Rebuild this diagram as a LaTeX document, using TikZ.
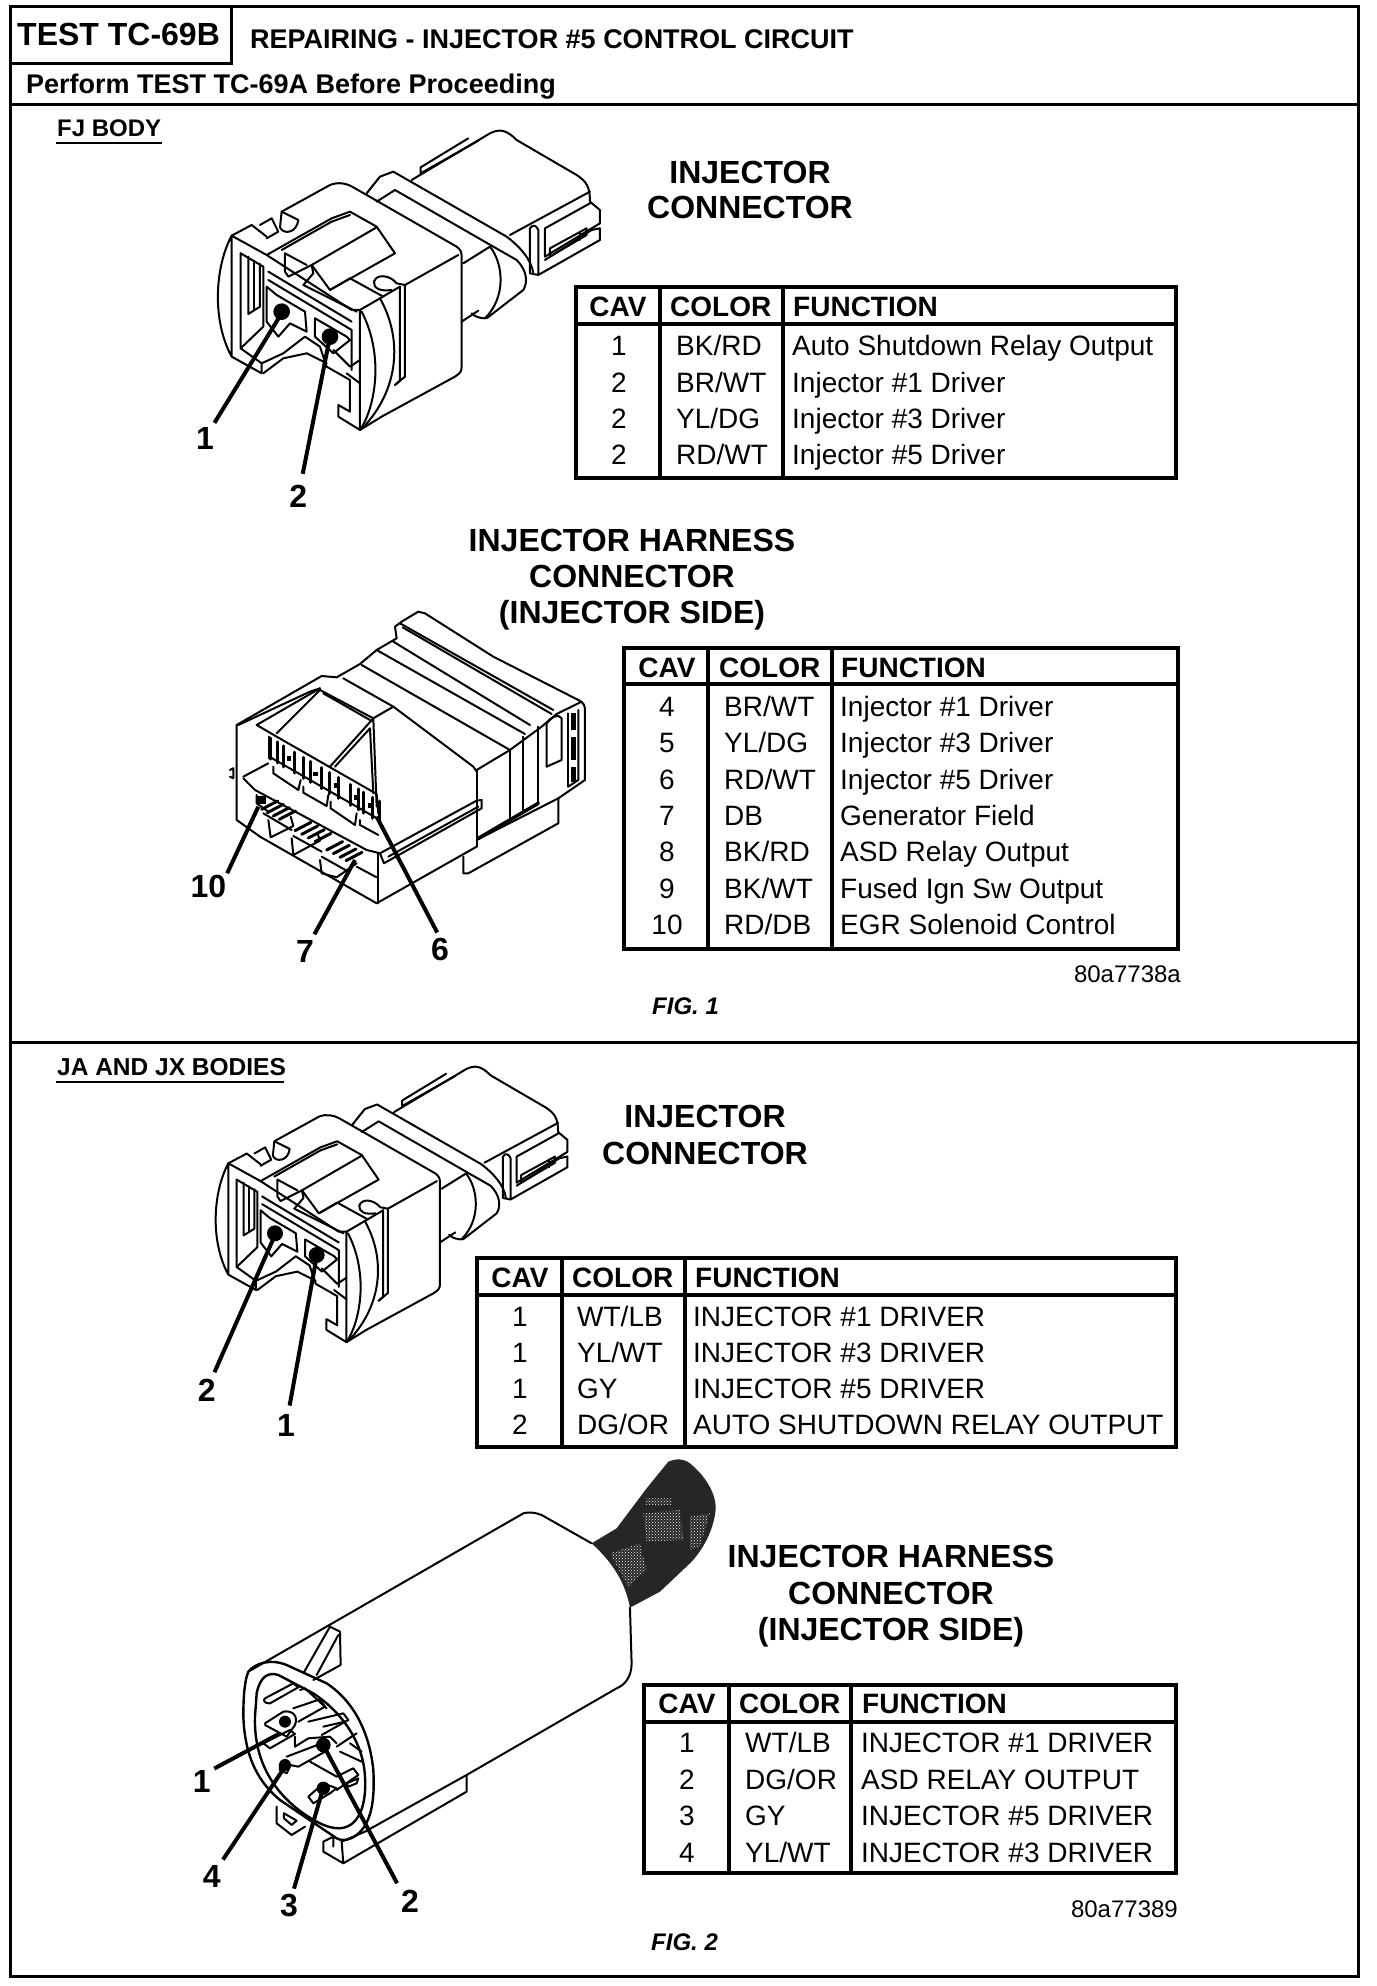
\documentclass[tikz,border=0pt]{standalone}
\usepackage{fontspec}
\usetikzlibrary{patterns}
\setmainfont{Liberation Sans}
\newcounter{cellno}
\newcommand{\fs}[1]{\fontsize{#1}{#1}\selectfont}
% cells of the tables and free texts: anchor, x, y, font size, text
\newcommand{\txt}[5]{\stepcounter{cellno}\node[cellbox,anchor=#1,font=\fs{#4}] (c\arabic{cellno}) at (#2,#3) {#5};}
\newcommand{\btxt}[5]{\stepcounter{cellno}\node[cellbox,anchor=#1,font=\fs{#4}\bfseries] (c\arabic{cellno}) at (#2,#3) {#5};}
\newcommand{\itxt}[5]{\stepcounter{cellno}\node[cellbox,anchor=#1,font=\fs{#4}\bfseries\itshape] (c\arabic{cellno}) at (#2,#3) {#5};}
% table frame: left,right,top,bottom,header line,col1,col2
\newcommand{\tblframe}[7]{\draw[tbl] (#1,#3) rectangle (#2,#4); \draw[tbl] (#1,#5) -- (#2,#5); \draw[tbl] (#6,#3) -- (#6,#4); \draw[tbl] (#7,#3) -- (#7,#4);}
% the moulded injector connector, in coordinates of a 3x enlargement
\newcommand{\injconn}{
\draw[ln] (245,287) .. controls (195,380) and (185,540) .. (245,650) -- (335,700) -- (335,670) -- (400,640) -- (465,590) -- (510,620) -- (530,680) -- (600,720) -- (600,815) -- (565,795) -- (565,830) -- (630,870) -- (630,510) -- (605,510) -- (350,345) -- (245,287) -- (245,650);
\draw[ln] (245,287) -- (305,255) -- (350,290);
\draw[ln] (330,255) -- (365,235) -- (385,275) -- (350,295);
\draw[ln] (272,340) -- (272,625) -- (335,670);
\draw[ln] (272,340) -- (340,380) -- (340,560) -- (272,625);
\draw[ln] (295,350) -- (295,522) -- (330,500) -- (330,372);
\draw[ln] (312,362) -- (312,508);
\draw[ln] (355,395) -- (605,545);
\draw[ln] (355,420) -- (605,570) -- (605,690);
\draw[ln] (350,440) -- (380,465) -- (465,515) -- (470,575) -- (420,550) -- (385,590) -- (350,545) -- cycle;
\draw[ln] (495,535) -- (590,590) -- (600,600) -- (550,640) -- (495,590) -- cycle;
\draw[ln] (340,700) -- (400,655) -- (470,640) -- (530,670);
\draw[ln] (550,630) -- (600,680) -- (630,660);
\draw[ln] (590,700) -- (630,730);
\draw[ln] (350,345) -- (545,235) -- (600,215) -- (680,260) -- (735,340) -- (540,450) -- (485,375) -- (415,410) -- (405,395) -- (405,340) -- (470,375);
\draw[ln] (395,330) -- (545,245) -- (600,225);
\draw[ln] (485,375) -- (680,262);
\draw[ln] (485,375) -- (490,400) -- (460,435) -- (620,515);
\draw[ln] (395,215) -- (390,262) .. controls (400,285) and (440,280) .. (445,240) -- (395,215);
\draw[ln] (395,215) -- (540,135) .. controls (565,125) and (590,130) .. (610,142) -- (920,320) .. controls (932,328) and (935,338) .. (935,350) -- (935,680) .. controls (935,695) and (930,700) .. (915,710) -- (695,830) -- (630,870);
\draw[ln] (600,415) -- (700,470);
\draw[ln] (540,450) -- (600,415);
\draw[ln] (672,425) .. controls (680,400) and (720,405) .. (740,430) -- (765,435);
\draw[ln] (672,425) .. controls (670,445) and (690,455) .. (725,450);
\draw[ln] (765,435) -- (925,345);
\draw[ln] (750,440) -- (750,722) -- (735,735);
\draw[ln] (765,435) -- (765,710) -- (735,735);
\draw[ln] (630,510) -- (750,440);
\draw[ln] (635,515) .. controls (700,640) and (680,790) .. (632,868);
\draw[ln] (690,475) .. controls (760,600) and (745,750) .. (640,862);
\draw[ln] (650,160) -- (690,110) -- (730,95) -- (1070,290) .. controls (1110,320) and (1145,360) .. (1150,400);
\draw[ln] (680,185) -- (735,150) -- (1030,320) -- (1100,360) .. controls (1130,390) and (1135,425) .. (1120,450) -- (1010,535);
\draw[ln] (940,370) -- (1020,320) .. controls (1060,370) and (1070,470) .. (1005,535) .. controls (990,535) and (975,530) .. (965,520);
\draw[ln] (935,545) -- (985,512);
\draw[ln] (785,120) -- (1020,-20) .. controls (1050,-35) and (1070,-30) .. (1100,0) -- (1280,105) .. controls (1310,125) and (1320,140) .. (1320,185);
\draw[ln] (812,100) -- (812,82) -- (955,-5);
\draw[ln] (812,100) -- (985,2);
\draw[ln] (1080,285) -- (1320,155);
\draw[ln] (1320,185) -- (1350,210) -- (1350,250) -- (1185,350) -- (1185,265) -- (1320,190);
\draw[ln] (1350,265) -- (1350,300) -- (1165,405) -- (1140,400) -- (1140,265) .. controls (1150,250) and (1160,258) .. (1165,270) -- (1165,405);
\draw[ln] (1185,360) -- (1325,270) -- (1350,265);
\draw[ln] (1200,325) -- (1200,350) -- (1310,285) -- (1310,265) -- cycle;
\draw[ln] (1290,275) -- (1290,300);
}
\tikzset{
 ln/.style={draw=black,line width=2pt,line join=round,line cap=round},
 tbl/.style={draw=black,line width=3.4pt,line cap=rect},
 frameline/.style={draw=black,line width=3pt,line cap=rect},
 leader/.style={draw=black,line width=4pt},
 cellbox/.style={inner sep=0pt,text=black},
 lab/.style={inner sep=0pt,text=black,font=\fs{32}\bfseries},
 pindot/.style={fill=black,draw=none}
}
\begin{document}
\begin{tikzpicture}[x=1pt,y=-1pt]
\useasboundingbox (0,0) rectangle (1376,1986);
\fill[white] (0,0) rectangle (1376,1986);
% frame
\draw[frameline] (10,6) rectangle (1358,1976);
\draw[frameline] (10,63) -- (231,63) -- (231,6);
\draw[frameline] (10,104) -- (1358,104);
\draw[frameline] (10,1042) -- (1358,1042);
\btxt{base west}{17}{45}{32}{TEST TC-69B}
\btxt{base west}{250}{48}{27}{REPAIRING - INJECTOR \#5 CONTROL CIRCUIT}
\btxt{base west}{26}{93}{27}{Perform TEST TC-69A Before Proceeding}
\btxt{base west}{57}{136}{24}{FJ BODY}
\draw[line width=2.2pt] (56,143) -- (162,143);
\btxt{base west}{57}{1075}{24.5}{JA AND JX BODIES}
\draw[line width=2.2pt] (56,1082) -- (284,1082);
% titles
\btxt{base}{750}{183}{32}{INJECTOR}
\btxt{base}{750}{218}{32}{CONNECTOR}
\btxt{base}{632}{551}{32}{INJECTOR HARNESS}
\btxt{base}{632}{587}{32}{CONNECTOR}
\btxt{base}{632}{623}{32}{(INJECTOR SIDE)}
\btxt{base}{705}{1127}{32}{INJECTOR}
\btxt{base}{705}{1164}{32}{CONNECTOR}
\btxt{base}{891}{1567}{32}{INJECTOR HARNESS}
\btxt{base}{891}{1604}{32}{CONNECTOR}
\btxt{base}{891}{1640}{32}{(INJECTOR SIDE)}
% table 1
\tblframe{576}{1176}{287}{478}{324}{660}{783}
\btxt{base}{618}{316}{28}{CAV}\btxt{base west}{670}{316}{28}{COLOR}\btxt{base west}{793}{316}{28}{FUNCTION}
\txt{base}{619}{355}{28}{1}\txt{base west}{676}{355}{28}{BK/RD}\txt{base west}{792}{355}{28}{Auto Shutdown Relay Output}
\txt{base}{619}{392}{28}{2}\txt{base west}{676}{392}{28}{BR/WT}\txt{base west}{792}{392}{28}{Injector \#1 Driver}
\txt{base}{619}{428}{28}{2}\txt{base west}{676}{428}{28}{YL/DG}\txt{base west}{792}{428}{28}{Injector \#3 Driver}
\txt{base}{619}{464}{28}{2}\txt{base west}{676}{464}{28}{RD/WT}\txt{base west}{792}{464}{28}{Injector \#5 Driver}
% table 2
\tblframe{624}{1178}{648}{949}{684}{708}{832}
\btxt{base}{667}{677}{28}{CAV}\btxt{base west}{719}{677}{28}{COLOR}\btxt{base west}{841}{677}{28}{FUNCTION}
\txt{base}{667}{716}{28}{4}\txt{base west}{724}{716}{28}{BR/WT}\txt{base west}{840}{716}{28}{Injector \#1 Driver}
\txt{base}{667}{752}{28}{5}\txt{base west}{724}{752}{28}{YL/DG}\txt{base west}{840}{752}{28}{Injector \#3 Driver}
\txt{base}{667}{789}{28}{6}\txt{base west}{724}{789}{28}{RD/WT}\txt{base west}{840}{789}{28}{Injector \#5 Driver}
\txt{base}{667}{825}{28}{7}\txt{base west}{724}{825}{28}{DB}\txt{base west}{840}{825}{28}{Generator Field}
\txt{base}{667}{861}{28}{8}\txt{base west}{724}{861}{28}{BK/RD}\txt{base west}{840}{861}{28}{ASD Relay Output}
\txt{base}{667}{898}{28}{9}\txt{base west}{724}{898}{28}{BK/WT}\txt{base west}{840}{898}{28}{Fused Ign Sw Output}
\txt{base}{667}{934}{28}{10}\txt{base west}{724}{934}{28}{RD/DB}\txt{base west}{840}{934}{28}{EGR Solenoid Control}
\txt{base east}{1181}{982}{24}{80a7738a}
\itxt{base west}{652}{1014}{24}{FIG. 1}
% table 3
\tblframe{477}{1176}{1258}{1447}{1295}{562}{685}
\btxt{base}{520}{1287}{28}{CAV}\btxt{base west}{572}{1287}{28}{COLOR}\btxt{base west}{695}{1287}{28}{FUNCTION}
\txt{base}{520}{1326}{28}{1}\txt{base west}{577}{1326}{28}{WT/LB}\txt{base west}{693}{1326}{28}{INJECTOR \#1 DRIVER}
\txt{base}{520}{1362}{28}{1}\txt{base west}{577}{1362}{28}{YL/WT}\txt{base west}{693}{1362}{28}{INJECTOR \#3 DRIVER}
\txt{base}{520}{1398}{28}{1}\txt{base west}{577}{1398}{28}{GY}\txt{base west}{693}{1398}{28}{INJECTOR \#5 DRIVER}
\txt{base}{520}{1434}{28}{2}\txt{base west}{577}{1434}{28}{DG/OR}\txt{base west}{693}{1434}{28}{AUTO SHUTDOWN RELAY OUTPUT}
% table 4
\tblframe{644}{1176}{1685}{1873}{1722}{729}{851}
\btxt{base}{687}{1713}{28}{CAV}\btxt{base west}{739}{1713}{28}{COLOR}\btxt{base west}{862}{1713}{28}{FUNCTION}
\txt{base}{687}{1752}{28}{1}\txt{base west}{745}{1752}{28}{WT/LB}\txt{base west}{861}{1752}{28}{INJECTOR \#1 DRIVER}
\txt{base}{687}{1789}{28}{2}\txt{base west}{745}{1789}{28}{DG/OR}\txt{base west}{861}{1789}{28}{ASD RELAY OUTPUT}
\txt{base}{687}{1825}{28}{3}\txt{base west}{745}{1825}{28}{GY}\txt{base west}{861}{1825}{28}{INJECTOR \#5 DRIVER}
\txt{base}{687}{1862}{28}{4}\txt{base west}{745}{1862}{28}{YL/WT}\txt{base west}{861}{1862}{28}{INJECTOR \#3 DRIVER}
\txt{base east}{1178}{1917}{24}{80a77389}
\itxt{base west}{651}{1950}{24}{FIG. 2}
% ---- FJ injector connector
\begin{scope}[shift={(150,140)},x=0.3333pt,y=-0.3333pt]
\injconn
\fill[pindot] (395,515) circle (25);
\fill[pindot] (540,590) circle (25);
\coordinate (pa1) at (395,520);
\coordinate (pa2) at (540,590);
\node[lab] (la1) at (165,895) {1};
\node[lab] (la2) at (445,1068) {2};
\end{scope}
\draw[leader,shorten <=5pt] (la1) -- (pa1);
\draw[leader,shorten <=11pt] (la2) -- (pa2);
% ---- JA/JX injector connector
\begin{scope}[shift={(153.2,1075.3)},x=0.3067pt,y=-0.3067pt]
\injconn
\end{scope}
\begin{scope}[shift={(180,1060)},x=0.3333pt,y=-0.3333pt]
\fill[pindot] (285,520) circle (24);
\fill[pindot] (410,585) circle (24);
\coordinate (pc2) at (285,525);
\coordinate (pc1) at (410,590);
\node[lab] (lc2) at (80,990) {2};
\node[lab] (lc1) at (318,1097) {1};
\end{scope}
\draw[leader,shorten <=7pt] (lc2) -- (pc2);
\draw[leader,shorten <=9pt] (lc1) -- (pc1);
% ---- FJ harness connector
\begin{scope}[shift={(180,590)},x=0.3333pt,y=-0.3333pt]
\draw[ln] (170,405) -- (425,258) -- (470,262) -- (540,222) -- (590,180) -- (650,145) -- (645,110) -- (665,95) -- (715,65) -- (735,70) -- (940,200) -- (1195,330) .. controls (1210,338) and (1215,345) .. (1215,360) -- (1215,570) -- (1135,625);
\draw[ln] (660,100) -- (1120,360);
\draw[ln] (668,112) -- (1115,372);
\draw[ln] (640,155) -- (1050,405);
\draw[ln] (590,180) -- (1035,432);
\draw[ln] (545,225) -- (990,480);
\draw[ln] (490,265) -- (640,350) -- (880,530) -- (890,545);
\draw[ln] (890,540) -- (990,480) -- (1085,410) -- (1130,372) -- (1205,335);
\draw[ln] (890,540) -- (890,770);
\draw[ln] (990,480) -- (990,690);
\draw[ln] (1030,440) -- (1030,665);
\draw[ln] (1075,410) -- (1075,640);
\draw[ln] (1100,400) -- (1100,530) -- (1145,510) -- (1145,385) .. controls (1135,370) and (1115,380) .. (1100,400);
\draw[ln] (1165,370) -- (1165,590);
\draw[ln] (1195,360) -- (1195,570) -- (1165,590);
\fill[black] (1172,370) rectangle (1188,420);
\fill[black] (1172,440) rectangle (1188,510);
\fill[black] (1172,530) rectangle (1188,575);
\draw[ln] (890,750) -- (1135,625) -- (1135,700) -- (865,850) -- (850,850) -- (850,800);
\draw[ln,line width=3.5pt] (895,745) -- (1075,640);
\draw[ln] (170,405) -- (170,690) -- (240,740) -- (590,940) -- (890,770);
\draw[ln] (150,540) -- (160,535) -- (160,565) -- (150,560);
\draw[ln] (595,940) -- (595,790);
\draw[ln] (190,560) -- (265,520);
\draw[ln] (190,565) -- (225,600) -- (560,780) -- (600,790) -- (890,632) -- (905,630) -- (905,655) -- (612,820) -- (600,790);
\draw[ln] (625,800) -- (895,650);
\draw[ln] (530,830) -- (590,862);
\draw[ln] (230,405) -- (290,440) -- (590,612) -- (595,670);
\draw[ln] (230,405) -- (420,295);
\draw[ln] (175,405) -- (390,305) -- (420,295);
\draw[ln] (290,430) -- (420,300) -- (580,385) -- (640,350);
\draw[ln] (430,310) -- (570,390);
\draw[ln] (450,530) -- (580,385) -- (590,650);
\draw[ln] (465,530) -- (570,415) -- (580,610);
% terminals, upper row
\draw[ln] (268,440) -- (268,505);
\draw[ln] (268,500) -- (600,690);
\foreach \xa in {272,292,312,345,372,392,425,450,475,512,535,552,578,598} {
 \draw[ln,line width=3pt] (\xa,{442+(\xa-268)*0.58}) -- (\xa,{505+(\xa-268)*0.58});
}
\foreach \xa in {320,400,462,522,565} {
 \fill[black] (\xa,{468+(\xa-268)*0.58}) rectangle (\xa+14,{482+(\xa-268)*0.58});
}
\draw[ln] (280,530) -- (280,550) -- (355,600) -- (362,570);
\draw[ln] (370,590) -- (370,608) -- (440,648) -- (445,615);
\draw[ln] (452,635) -- (452,655) -- (525,705) -- (530,670);
\draw[ln] (540,690) -- (540,705) -- (595,735);
% terminals, lower row
\fill[black] (228,618) rectangle (258,642);
\draw[ln] (230,615) -- (230,640) -- (265,665);
\foreach \xa/\ya in {245/658,262/668,280/678,298/688} {\draw[ln,line width=3pt] (\xa,\ya) -- (\xa+48,\ya-25);}
\draw[ln] (265,690) -- (272,742) -- (340,708) -- (332,680);
\draw[ln] (250,670) -- (335,720);
\foreach \xa/\ya in {345/722,365/733,385/744,405/755} {\draw[ln,line width=3pt] (\xa,\ya) -- (\xa+48,\ya-25);}
\draw[ln] (335,745) -- (340,795) -- (420,752) -- (412,728);
\draw[ln] (340,738) -- (425,785);
\foreach \xa/\ya in {440/780,460/791,480/802,498/812} {\draw[ln,line width=3pt] (\xa,\ya) -- (\xa+48,\ya-25);}
\draw[ln] (420,810) -- (425,850) -- (470,862) -- (530,820);
\draw[ln] (425,800) -- (505,845);
\coordinate (pb10) at (235,650);
\coordinate (pb7) at (525,810);
\coordinate (pb6) at (590,680);
\node[lab] (lb10) at (85,890) {10};
\node[lab] (lb7) at (375,1085) {7};
\node[lab] (lb6) at (780,1078) {6};
\end{scope}
\draw[leader,shorten <=2pt] (lb10.north east) -- (pb10);
\draw[leader,shorten <=7pt] (lb7) -- (pb7);
\draw[leader,shorten <=6pt] (lb6.north) -- (pb6);
% ---- JA/JX harness connector
\begin{scope}[shift={(180,1450)},x=0.3333pt,y=-0.3333pt]
\fill[black!85] (1235,280) -- (1310,235) -- (1400,115) -- (1465,35) .. controls (1490,25) and (1510,25) .. (1530,40) .. controls (1585,85) and (1610,140) .. (1607,180) .. controls (1600,250) and (1560,310) .. (1530,340) -- (1440,425) -- (1350,473) .. controls (1335,390) and (1290,330) .. (1235,280) -- cycle;
\fill[pattern=crosshatch dots,pattern color=white] (1390,190) -- (1500,180) -- (1510,270) -- (1400,275) -- cycle;
\fill[pattern=crosshatch dots,pattern color=white] (1400,145) -- (1475,145) -- (1475,165) -- (1395,165) -- cycle;
\fill[pattern=crosshatch dots,pattern color=white] (1290,310) -- (1380,280) -- (1400,360) -- (1345,410) -- cycle;
\fill[pattern=crosshatch dots,pattern color=white] (1530,200) -- (1590,190) -- (1560,290) -- (1530,300) -- cycle;
\draw[ln] (205,665) -- (1030,190) .. controls (1045,185) and (1065,187) .. (1085,195) -- (1235,280);
\draw[ln] (1350,473) -- (1355,640) .. controls (1355,680) and (1335,705) .. (1310,715) -- (860,975) -- (555,1145);
\draw[ln] (860,975) -- (860,1025) -- (490,1240) -- (430,1205) -- (430,1175) -- (460,1160) -- (460,1190);
\draw[ln] (485,1175) -- (490,1240);
\draw[ln] (485,1175) -- (555,1145);
\draw[ln,line width=2.4pt] (205,665) .. controls (225,640) and (270,625) .. (320,645) -- (440,700) .. controls (530,760) and (570,860) .. (580,960) .. controls (585,1050) and (575,1120) .. (530,1155) .. controls (510,1170) and (490,1175) .. (470,1165) -- (300,1050) .. controls (240,1000) and (195,930) .. (190,800) .. controls (190,730) and (195,690) .. (205,665) -- cycle;
\draw[ln,line width=2.4pt] (230,730) .. controls (240,680) and (265,665) .. (295,675) -- (400,730) .. controls (490,790) and (550,880) .. (555,980) .. controls (560,1060) and (540,1130) .. (480,1135) .. controls (450,1135) and (430,1125) .. (410,1115) .. controls (310,1060) and (220,960) .. (225,800) -- (230,730) -- cycle;
\draw[ln] (370,670) -- (450,530) -- (480,545) -- (482,645) -- (400,690);
\draw[ln] (410,675) -- (475,555);
\draw[ln] (290,1070) -- (290,1120) -- (335,1155) -- (375,1130);
\draw[ln] (312,1090) -- (350,1112) -- (335,1125) -- (312,1105) -- cycle;
% pins
\draw[ln] (255,745) -- (340,700) -- (355,712) -- (270,760) .. controls (250,760) and (250,750) .. (255,745);
\draw[ln] (360,720) -- (375,715) -- (440,775);
\draw[ln] (340,775) -- (420,748) -- (435,770) -- (355,815);
\draw[ln] (255,820) -- (310,785) .. controls (340,780) and (355,800) .. (345,825) -- (320,860) -- (255,825);
\draw[ln] (250,880) -- (330,840) -- (345,852) -- (270,895) -- cycle;
\draw[ln] (345,860) -- (345,890) -- (385,865) -- (450,860) -- (470,880);
\draw[ln] (385,815) -- (490,790) -- (505,810) -- (425,855);
\draw[ln] (430,830) -- (495,815);
\draw[ln] (320,920) -- (420,882) -- (435,905) -- (355,950) -- (330,945);
\draw[ln] (300,945) .. controls (310,925) and (330,930) .. (330,950) -- (320,970) -- (300,960) -- cycle;
\draw[ln] (390,935) -- (470,980) -- (520,955) -- (535,975) -- (470,1020);
\draw[ln] (470,890) -- (530,850);
\draw[ln] (480,905) -- (545,935);
\draw[ln] (510,880) -- (545,905);
\draw[ln] (385,1040) -- (430,1000) -- (470,1015) -- (450,1030) -- (400,1060) -- cycle;
\draw[ln] (500,1000) -- (535,985) -- (530,1000) -- (505,1010) -- cycle;
\fill[pindot] (315,815) circle (18);
\fill[pindot] (430,885) circle (22);
\fill[pindot] (430,1015) circle (20);
\fill[pindot] (315,945) circle (18);
\coordinate (pd1) at (300,850);
\coordinate (pd2) at (435,895);
\coordinate (pd3) at (425,1030);
\coordinate (pd4) at (315,950);
\node[lab] (ld1) at (65,995) {1};
\node[lab] (ld2) at (690,1355) {2};
\node[lab] (ld3) at (327,1368) {3};
\node[lab] (ld4) at (95,1280) {4};
\end{scope}
\draw[leader,shorten <=4pt] (ld1.north east) -- (pd1);
\draw[leader,shorten <=8pt] (ld2.north west) -- (pd2);
\draw[leader,shorten <=6pt] (ld3) -- (pd3);
\draw[leader,shorten <=7pt] (ld4) -- (pd4);
\end{tikzpicture}
\end{document}
